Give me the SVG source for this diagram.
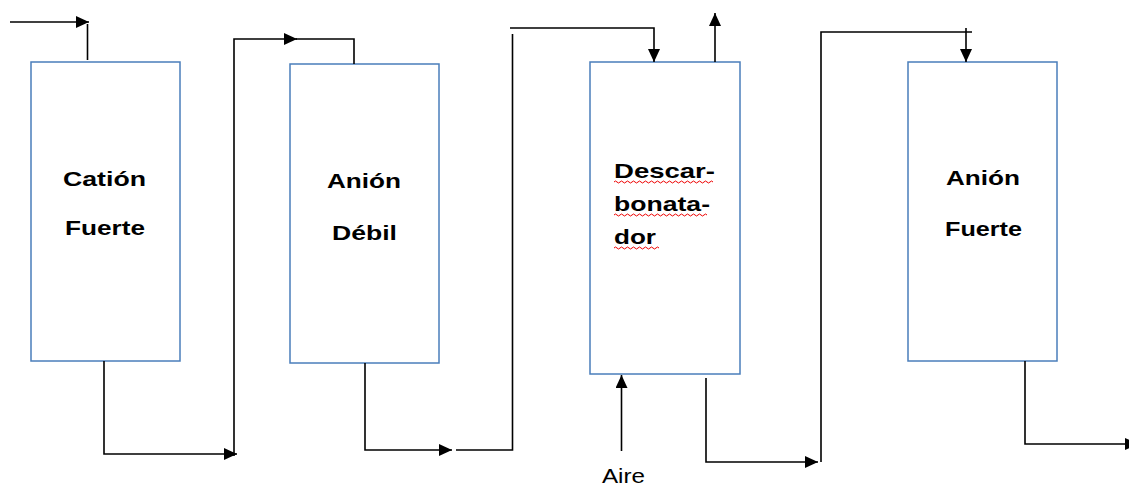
<svg xmlns="http://www.w3.org/2000/svg" width="1129" height="485" viewBox="0 0 1129 485">
<style>
.box{fill:#fff;stroke:#4a7ebb;stroke-width:1.5}
.lbl{font-family:"Liberation Sans",Arial,sans-serif;font-weight:bold;font-size:21px;fill:#000}
.air{font-family:"Liberation Sans",Arial,sans-serif;font-size:21px;fill:#000}
.c{fill:none;stroke:#000;stroke-width:1.6}
.sq{fill:none;stroke:#e00;stroke-width:1}
</style>
<defs>
<marker id="ah" markerUnits="userSpaceOnUse" markerWidth="13" markerHeight="12" refX="13" refY="6" orient="auto">
<path d="M0,0 L13,6 L0,12 z" fill="#000"/>
</marker>
</defs>
<rect width="1129" height="485" fill="#fff"/>
<g id="n1">
<rect class="box" x="31" y="62" width="149" height="299"/>
<text class="lbl" x="63" y="186" textLength="83" lengthAdjust="spacingAndGlyphs">Catión</text>
<text class="lbl" x="65" y="235" textLength="80" lengthAdjust="spacingAndGlyphs">Fuerte</text>
</g>
<g id="n2">
<rect class="box" x="290" y="64" width="149" height="299"/>
<text class="lbl" x="327" y="188" textLength="74" lengthAdjust="spacingAndGlyphs">Anión</text>
<text class="lbl" x="332" y="240" textLength="65" lengthAdjust="spacingAndGlyphs">Débil</text>
</g>
<g id="n3">
<rect class="box" x="590" y="62" width="150" height="312"/>
<text class="lbl" x="614" y="178" textLength="101" lengthAdjust="spacingAndGlyphs">Descar-</text>
<text class="lbl" x="614" y="211" textLength="96" lengthAdjust="spacingAndGlyphs">bonata-</text>
<text class="lbl" x="614" y="244" textLength="42" lengthAdjust="spacingAndGlyphs">dor</text>
<path class="sq" d="M614,182 q1.5,-2 3,0 t3,0 t3,0 t3,0 t3,0 t3,0 t3,0 t3,0 t3,0 t3,0 t3,0 t3,0 t3,0 t3,0 t3,0 t3,0 t3,0 t3,0 t3,0 t3,0 t3,0 t3,0 t3,0 t3,0 t3,0 t3,0 t3,0 t3,0 t3,0 t3,0 t3,0 t3,0 t3,0"/>
<path class="sq" d="M614,215 q1.5,-2 3,0 t3,0 t3,0 t3,0 t3,0 t3,0 t3,0 t3,0 t3,0 t3,0 t3,0 t3,0 t3,0 t3,0 t3,0 t3,0 t3,0 t3,0 t3,0 t3,0 t3,0 t3,0 t3,0 t3,0 t3,0 t3,0 t3,0 t3,0 t3,0 t3,0 t3,0"/>
<path class="sq" d="M614,248 q1.5,-2 3,0 t3,0 t3,0 t3,0 t3,0 t3,0 t3,0 t3,0 t3,0 t3,0 t3,0 t3,0 t3,0 t3,0 t3,0"/>
</g>
<g id="n4">
<rect class="box" x="908" y="62" width="149" height="299"/>
<text class="lbl" x="946" y="185" textLength="74" lengthAdjust="spacingAndGlyphs">Anión</text>
<text class="lbl" x="945" y="236" textLength="77" lengthAdjust="spacingAndGlyphs">Fuerte</text>
</g>
<g id="air">
<text class="air" x="602" y="483" textLength="43" lengthAdjust="spacingAndGlyphs">Aire</text>
</g>
<g id="connectors">
<path class="c" d="M10,22 H89" marker-end="url(#ah)"/>
<path class="c" d="M87.5,24 V60"/>
<path class="c" d="M104,361 V454 H237" marker-end="url(#ah)"/>
<path class="c" d="M234,456 V39 H297" marker-end="url(#ah)"/>
<path class="c" d="M296,39 H354 V64"/>
<path class="c" d="M365,363 V450 H452" marker-end="url(#ah)"/>
<path class="c" d="M456,450 H512.5 V34"/>
<path class="c" d="M510,28 H654 V62" marker-end="url(#ah)"/>
<path class="c" d="M715,62 V13" marker-end="url(#ah)"/>
<path class="c" d="M621.5,451 V375" marker-end="url(#ah)"/>
<path class="c" d="M706,378 V462 H818" marker-end="url(#ah)"/>
<path class="c" d="M821,462 V32 H972"/>
<path class="c" d="M966,28 V62" marker-end="url(#ah)"/>
<path class="c" d="M1025,361 V444 H1138" marker-end="url(#ah)"/>
</g>
</svg>
